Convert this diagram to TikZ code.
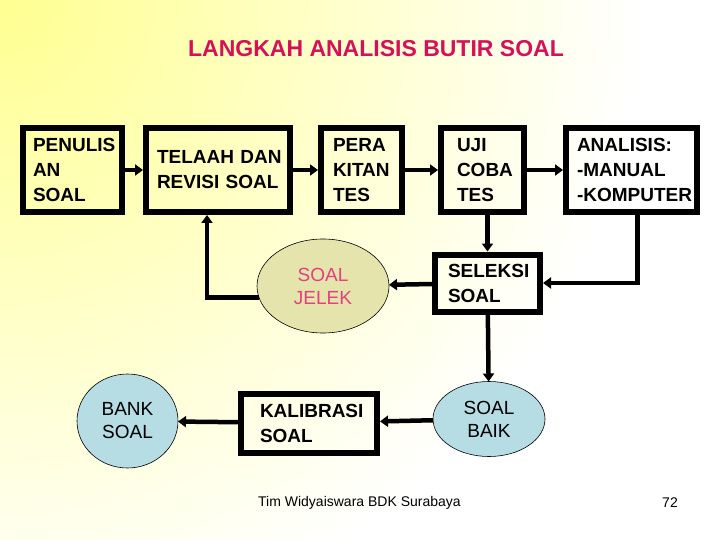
\documentclass[tikz,border=0pt]{standalone}
\usepackage{fontspec}
\setmainfont{Liberation Sans}
\usetikzlibrary{positioning, arrows.meta, calc, shapes.geometric}
\definecolor{titlered}{RGB}{214,16,88}
\definecolor{jelekpink}{RGB}{228,64,128}
\definecolor{khaki}{RGB}{228,228,172}
\definecolor{paleblue}{RGB}{182,220,228}
\definecolor{bgyellow}{RGB}{255,255,145}
\hyphenpenalty=10000
\exhyphenpenalty=10000

\begin{document}
\begin{tikzpicture}[
  x=1pt, y=-1pt,
  >=Triangle
]
% -------------------- Styles --------------------
\tikzset{
  stepbox/.style={
    draw, line width=6pt, outer sep=0pt,
    align=left, inner ysep=2pt,
    font=\fontsize{19}{25}\selectfont\bfseries,
    minimum height=84pt
  },
  result/.style={
    ellipse, draw, line width=0.6pt, outer sep=0pt,
    align=center, inner sep=0pt,
    font=\fontsize{19}{23}\selectfont
  },
  arrow/.style={-{Triangle[length=8pt, width=11pt]}, line width=4.5pt},
  toBox/.style={arrow, shorten >=3pt}
}

% -------------------- Background --------------------
\begin{scope}
  \clip (0,0) rectangle (720,540);
  \fill[white] (0,0) rectangle (720,540);
  \shade[inner color=bgyellow, outer color=white] (0,0) circle (640pt);
\end{scope}
\useasboundingbox (0,0) rectangle (720,540);

\node[font=\fontsize{23}{28}\selectfont\bfseries, text=titlered] (title) at (376,49)
  {LANGKAH ANALISIS BUTIR SOAL};

% -------------------- Top row --------------------
\node[stepbox, text width=79pt, inner xsep=10pt] (penulis) at (72.5,170) {
  PENULIS\\AN\\SOAL
};

\node[stepbox, text width=122pt, inner xsep=11pt, right=24pt of penulis] (telaah) {
  TELAAH~DAN\\REVISI~SOAL
};

\node[stepbox, text width=57pt, inner xsep=12pt, right=31pt of telaah] (perakitan) {
  PERA\\KITAN\\TES
};

\node[stepbox, text width=51pt, inner xsep=16pt, right=39pt of perakitan] (uji) {
  UJI\\COBA\\TES
};

\node[stepbox, text width=109pt, inner xsep=11pt, right=42pt of uji] (analisis) {
  ANALISIS:\\-MANUAL\\\mbox{-KOMPUTER}
};

\draw[toBox] (penulis) -- (telaah);
\draw[toBox] (telaah) -- (perakitan);
\draw[toBox] (perakitan) -- (uji);
\draw[toBox] (uji) -- (analisis);

% -------------------- Selection --------------------
\node[stepbox, minimum height=57pt, text width=79pt, inner xsep=13pt] (seleksi) at (487.5,283) {
  SELEKSI\\SOAL
};

\node[result, fill=khaki, text=jelekpink, minimum width=132pt, minimum height=94pt] (jelek) at (323,286) {
  SOAL\\JELEK
};

\node[result, fill=paleblue, minimum width=112pt, minimum height=75pt] (baik) at (489,419) {
  SOAL\\BAIK
};

\draw[toBox] (seleksi |- uji.south) -- (seleksi);
\draw[toBox] ([xshift=6pt]analisis.south) |- (seleksi);
\draw[arrow] (seleksi) -- (jelek);
\draw[toBox] (jelek.190) -| ([xshift=-11pt]telaah.south);
\draw[arrow] (seleksi) -- (baik);

% -------------------- Bottom row --------------------
\node[stepbox, minimum height=59pt, text width=98pt, inner xsep=19pt] (kalibrasi) at (309,423) {
  KALIBRASI\\SOAL
};

\node[result, fill=paleblue, minimum width=101pt, minimum height=94pt] (bank) at (127.5,421) {
  BANK\\SOAL
};

\draw[toBox] (baik) -- (kalibrasi);
\draw[arrow] (kalibrasi) -- (bank);

% footer
\node[font=\fontsize{14}{17}\selectfont, anchor=west, inner sep=0pt] (footer) at (258,503)
  {Tim Widyaiswara BDK Surabaya};
\node[font=\fontsize{14}{17}\selectfont, inner sep=0pt] (page) at (670,503) {72};

\end{tikzpicture}
\end{document}
